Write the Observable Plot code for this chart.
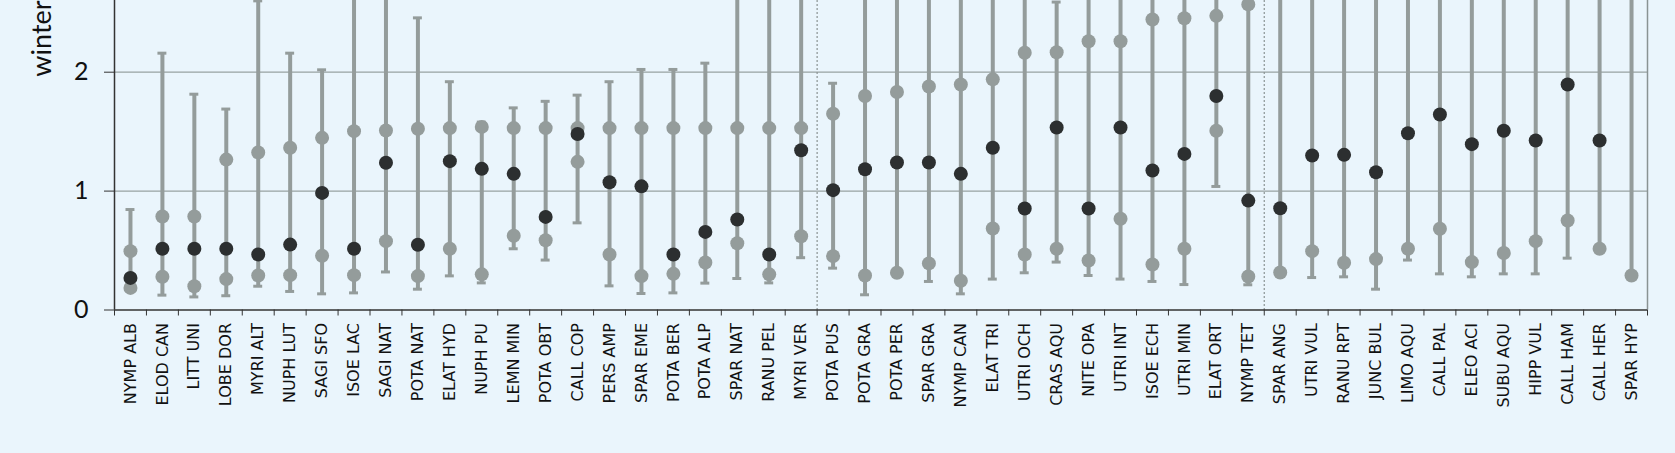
<!DOCTYPE html>
<html><head><meta charset="utf-8">
<script src="https://cdn.jsdelivr.net/npm/d3@7"></script>
<script src="https://cdn.jsdelivr.net/npm/@observablehq/plot@0.6"></script>
<style>
html,body{margin:0;padding:0;background:#eaf5fc;}
#chart{width:1675px;height:453px;overflow:hidden;}
</style></head><body><div id="chart"></div>
<script>
const categories = ["NYMP ALB","ELOD CAN","LITT UNI","LOBE DOR","MYRI ALT","NUPH LUT","SAGI SFO","ISOE LAC","SAGI NAT","POTA NAT","ELAT HYD","NUPH PU","LEMN MIN","POTA OBT","CALL COP","PERS AMP","SPAR EME","POTA BER","POTA ALP","SPAR NAT","RANU PEL","MYRI VER",
  "POTA PUS","POTA GRA","POTA PER","SPAR GRA","NYMP CAN","ELAT TRI","UTRI OCH","CRAS AQU","NITE OPA","UTRI INT","ISOE ECH","UTRI MIN","ELAT ORT","NYMP TET",
  "SPAR ANG","UTRI VUL","RANU RPT","JUNC BUL","LIMO AQU","CALL PAL","ELEO ACI","SUBU AQU","HIPP VUL","CALL HAM","CALL HER","SPAR HYP"];
const groupSizes = [22, 14, 12];
// whisker ends (values above ~2.6 run off the top of the frame)
const whiskerHigh = [0.845,2.16,1.815,1.69,2.6,2.16,2.02,3.0,3.0,2.457,1.92,1.58,1.70,1.755,1.807,1.92,2.023,2.023,2.076,3.0,3.0,3.0,
  1.907,3.0,3.0,3.0,3.0,3.0,3.0,2.59,3.0,3.0,3.0,3.0,3.0,3.0,
  3.0,3.0,3.0,3.0,3.0,3.0,3.0,3.0,3.0,3.0,3.0,3.0];
const whiskerLow = [0.17,0.125,0.11,0.12,0.20,0.156,0.136,0.144,0.32,0.175,0.287,0.228,0.515,0.42,0.733,0.203,0.139,0.144,0.226,0.265,0.228,0.44,
  0.352,0.128,0.30,0.24,0.136,0.26,0.313,0.403,0.29,0.26,0.24,0.214,1.039,0.212,
  0.31,0.273,0.279,0.175,0.42,0.304,0.279,0.304,0.304,0.436,0.50,0.29];
const upperPoint = [0.495,0.786,0.786,1.265,1.325,1.364,1.448,1.504,1.51,1.524,1.53,1.54,1.53,1.53,1.53,1.53,1.53,1.53,1.53,1.53,1.53,1.53,
  1.65,1.80,1.833,1.88,1.897,1.94,2.163,2.168,2.26,2.26,2.443,2.454,2.474,2.57,
  null,null,null,null,null,null,null,null,null,null,null,null];
const lowerPoint = [0.186,0.28,0.20,0.26,0.29,0.293,0.456,0.293,0.579,0.285,0.515,0.30,0.624,0.587,1.246,0.467,0.285,0.304,0.40,0.562,0.30,0.62,
  0.453,0.29,0.313,0.392,0.246,0.685,0.467,0.515,0.416,0.767,0.383,0.515,1.507,0.282,
  0.315,0.495,0.397,0.428,0.515,0.683,0.403,0.479,0.579,0.753,0.515,0.29];
const centrePoint = [0.27,0.515,0.515,0.515,0.467,0.55,0.985,0.515,1.238,0.549,1.252,1.187,1.145,0.783,1.48,1.075,1.04,0.467,0.657,0.761,0.467,1.344,
  1.008,1.184,1.24,1.24,1.145,1.364,0.854,1.535,0.854,1.535,1.173,1.313,1.80,0.92,
  0.856,1.30,1.305,1.158,1.487,1.644,1.395,1.507,1.426,1.896,1.426,null];
const yLabel = "winter";
const yTicks = [0, 1, 2];
const yTop = 2.603;

const GRAY = "#949c9b", BLACK = "#2c2f30", BG = "#eaf5fc";
const rows = categories.map((c, i) => ({c, xc: i + 0.5, hi: whiskerHigh[i], lo: whiskerLow[i], up: upperPoint[i], dn: lowerPoint[i], md: centrePoint[i]}));
const boundaries = d3.range(categories.length + 1);
const groupBreaks = d3.cumsum(groupSizes).slice(0, -1);
const capHalf = 0.14;

const chart = Plot.plot({
  width: 1675, height: 453,
  marginLeft: 114, marginRight: 28, marginTop: 0, marginBottom: 143.5,
  style: {background: BG, fontFamily: "Lato, 'Liberation Sans', sans-serif", color: "#111"},
  x: {type: "linear", domain: [0, categories.length], axis: null},
  y: {domain: [0, yTop], axis: null},
  marks: [
    Plot.gridY([1, 2], {stroke: "#97a2a2", strokeOpacity: 1, strokeWidth: 1.2}),
    Plot.ruleX(groupBreaks, {stroke: "#8a9393", strokeDasharray: "2,2", strokeWidth: 1.2}),
    Plot.ruleX(rows, {x: "xc", y1: "lo", y2: "hi", stroke: GRAY, strokeWidth: 4, clip: true}),
    Plot.ruleY(rows.filter(d => d.hi <= yTop), {y: "hi", x1: d => d.xc - capHalf, x2: d => d.xc + capHalf, stroke: GRAY, strokeWidth: 3}),
    Plot.ruleY(rows, {y: "lo", x1: d => d.xc - capHalf, x2: d => d.xc + capHalf, stroke: GRAY, strokeWidth: 3}),
    Plot.dot(rows, {x: "xc", y: "up", r: 7, fill: GRAY, clip: true}),
    Plot.dot(rows, {x: "xc", y: "dn", r: 7, fill: GRAY, clip: true}),
    Plot.dot(rows, {x: "xc", y: "md", r: 7, fill: BLACK, clip: true}),
    Plot.ruleX([categories.length], {stroke: "#8a9393", strokeWidth: 1.5}),
    Plot.ruleX([0], {stroke: "#333", strokeWidth: 1.5}),
    Plot.ruleY([0], {stroke: "#333", strokeWidth: 1.5}),
    Plot.axisX(boundaries, {tickSize: 6, tickFormat: () => "", label: null, stroke: "#333"}),
    Plot.axisX(rows.map(d => d.xc), {tickSize: 0, tickPadding: 13, tickRotate: -90, tickFormat: d => categories[Math.floor(d)], label: null, fontSize: 16, fontFamily: "'DejaVu Sans', sans-serif", fill: "#111"}),
    Plot.axisY(yTicks, {tickSize: 10, tickPadding: 16, tickFormat: d3.format("d"), label: null, fontSize: 25, fill: "#111", stroke: "#333"}),
    Plot.text([yLabel], {frameAnchor: "top-left", textAnchor: "middle", lineAnchor: "middle", rotate: -90, dx: -72, dy: 38, fontSize: 27, fill: "#111"})
  ]
});
document.getElementById("chart").appendChild(chart);
</script></body></html>
